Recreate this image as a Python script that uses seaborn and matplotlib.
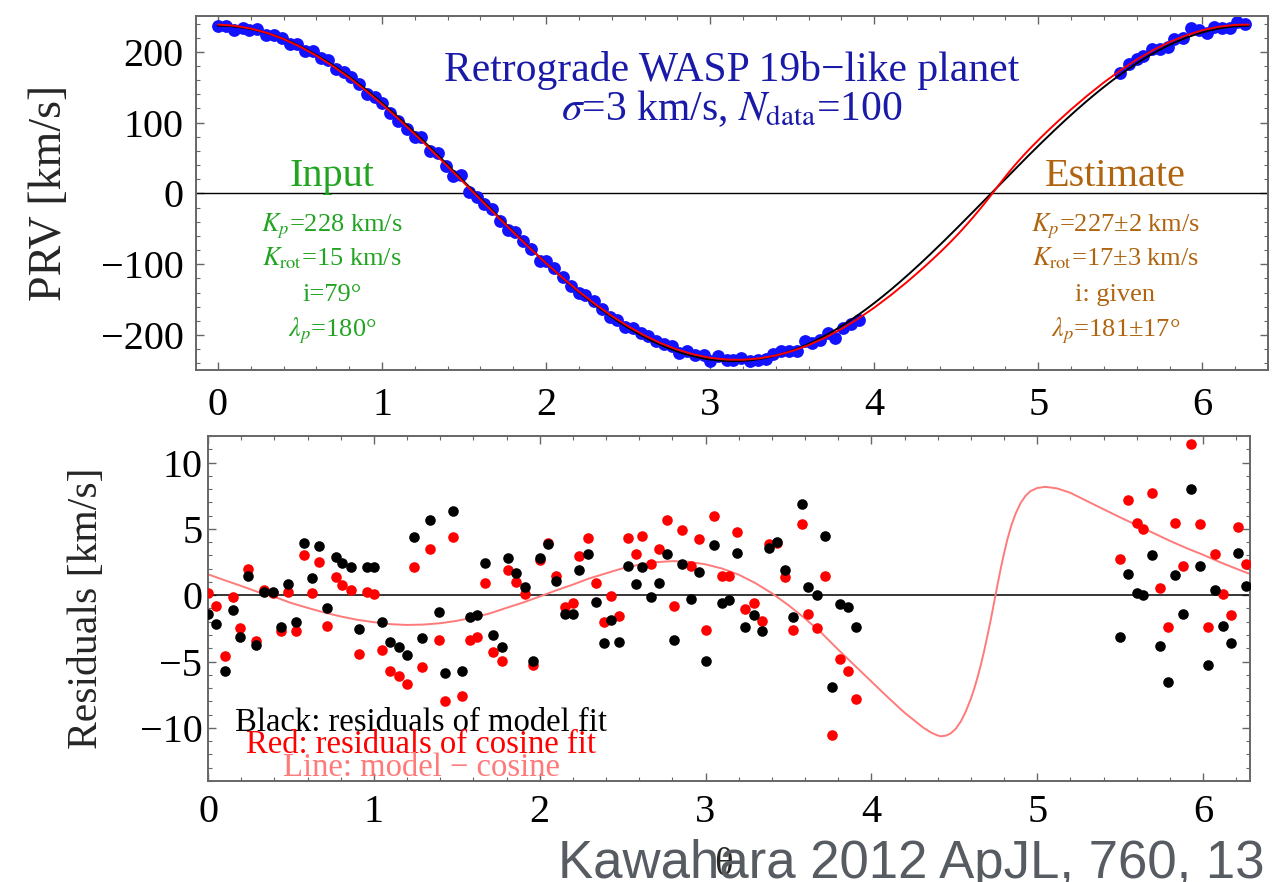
import numpy as np
import pandas as pd
import matplotlib
matplotlib.use("Agg")
import matplotlib.pyplot as plt
import seaborn as sns
from matplotlib.ticker import MultipleLocator

# Orbital phase of each observation (rad)
phase = [
    0.00, 0.05, 0.10, 0.15, 0.19, 0.24, 0.29, 0.34, 0.39, 0.44,
    0.48, 0.53, 0.58, 0.63, 0.67, 0.72, 0.77, 0.81, 0.86, 0.91,
    0.96, 1.00, 1.05, 1.10, 1.15, 1.20, 1.24, 1.29, 1.34, 1.39,
    1.43, 1.48, 1.53, 1.58, 1.62, 1.67, 1.72, 1.77, 1.81, 1.86,
    1.91, 1.96, 2.00, 2.05, 2.10, 2.15, 2.20, 2.24, 2.29, 2.34,
    2.39, 2.43, 2.48, 2.53, 2.58, 2.62, 2.67, 2.72, 2.77, 2.81,
    2.86, 2.91, 2.96, 3.00, 3.05, 3.10, 3.14, 3.19, 3.24, 3.29,
    3.34, 3.38, 3.43, 3.48, 3.53, 3.58, 3.62, 3.67, 3.72, 3.76,
    3.81, 3.86, 3.91,
    5.50, 5.55, 5.60, 5.64, 5.69, 5.74, 5.79, 5.83, 5.88, 5.93,
    5.98, 6.03, 6.07, 6.12, 6.17, 6.21, 6.26,
]

# Residuals of the model fit (km/s)
resid_model = [
    -1.38, -2.18, -5.74, -1.08, -3.18, 1.48, -3.73, 0.28, 0.28, -2.43,
    0.83, -1.98, 3.93, 1.28, 3.71, -0.98, 2.88, 2.41, 2.16, -2.58,
    2.16, 2.16, -1.98, -3.56, -3.91, -4.49, 4.36, -3.23, 5.66, -1.25,
    -5.89, 6.37, -5.71, -1.65, -1.48, 2.41, -2.98, -3.88, 2.78, 1.70,
    0.65, -4.99, 2.78, 3.83, 1.08, -1.43, -1.38, 1.93, 3.08, -0.48,
    -3.63, -1.85, -3.53, 2.21, 0.85, 2.10, -0.10, 0.95, 3.08, -3.41,
    2.33, -0.30, 1.78, -4.96, 3.81, -0.58, -0.33, 3.16, -2.36, -1.50,
    -2.66, 3.56, 4.04, 1.93, -1.63, 6.89, 0.60, 0.03, 4.49, -6.89,
    -0.63, -0.88, -2.36,
    -3.16, 1.60, 0.18, 0.00, 3.03, -3.86, -6.55, 1.55, -1.43, 8.02,
    2.21, -5.26, 0.43, -2.33, -3.63, 3.21, 0.68,
]

# Residuals of the cosine fit (km/s)
resid_cosine = [
    0.20, -0.78, -4.61, -0.13, -2.46, 2.00, -3.46, 0.40, 0.20, -2.73,
    0.28, -2.68, 3.06, 0.20, 2.50, -2.33, 1.38, 0.78, 0.40, -4.46,
    0.25, 0.13, -4.11, -5.74, -6.12, -6.72, 2.10, -5.44, 3.48, -3.38,
    -7.94, 4.39, -7.59, -3.38, -3.13, 0.95, -4.29, -4.99, 1.88, 0.98,
    0.13, -5.29, 2.68, 3.96, 1.45, -0.85, -0.60, 2.96, 4.31, 0.95,
    -2.00, -0.05, -1.58, 4.34, 3.11, 4.44, 2.36, 3.46, 5.64, -0.83,
    4.89, 2.21, 4.21, -2.63, 5.99, 1.45, 1.45, 4.76, -1.05, -0.55,
    -1.95, 3.86, 3.91, 1.38, -2.61, 5.39, -1.40, -2.48, 1.43, -10.55,
    -4.84, -5.71, -7.79,
    2.71, 7.17, 5.46, 4.96, 7.72, 0.58, -2.43, 5.46, 2.21, 11.40,
    5.36, -2.36, 3.08, 0.08, -1.48, 5.16, 2.38,
]

# Model minus cosine curve (km/s)
diff_phase = [
    0.00, 0.10, 0.20, 0.30, 0.40, 0.50, 0.60, 0.70, 0.80, 0.90,
    1.00, 1.10, 1.20, 1.30, 1.40, 1.50, 1.60, 1.70, 1.80, 1.90,
    2.00, 2.10, 2.20, 2.30, 2.40, 2.50, 2.60, 2.70, 2.80, 2.90,
    3.00, 3.10, 3.20, 3.30, 3.40, 3.50, 3.60, 3.70, 3.80, 3.90,
    4.00, 4.10, 4.20, 4.26, 4.31, 4.36, 4.40, 4.42, 4.45, 4.48,
    4.51, 4.54, 4.57, 4.60, 4.62, 4.64, 4.66, 4.68, 4.70, 4.72,
    4.74, 4.76, 4.78, 4.80, 4.82, 4.845, 4.87, 4.90, 4.93, 4.96,
    5.00, 5.05, 5.12, 5.20, 5.30, 5.40, 5.50, 5.60, 5.70, 5.80,
    5.90, 6.00, 6.10, 6.20, 6.283,
]
diff_value = [
    1.58, 1.13, 0.70, 0.25, -0.12, -0.58, -0.95, -1.30, -1.60, -1.85,
    -2.03, -2.18, -2.24, -2.21, -2.11, -1.93, -1.68, -1.37, -0.95, -0.55,
    -0.10, 0.37, 0.80, 1.27, 1.65, 2.03, 2.30, 2.49, 2.57, 2.52,
    2.33, 2.01, 1.55, 0.92, 0.15, -0.75, -1.75, -2.85, -4.10, -5.30,
    -6.50, -7.70, -8.85, -9.45, -9.95, -10.35, -10.57, -10.63, -10.58, -10.40,
    -10.05, -9.50, -8.75, -7.80, -7.05, -6.20, -5.25, -4.20, -3.05, -1.85,
    -0.55, 0.75, 2.00, 3.15, 4.20, 5.30, 6.15, 6.95, 7.50, 7.85,
    8.08, 8.17, 8.05, 7.72, 7.10, 6.48, 5.87, 5.28, 4.69, 4.10,
    3.55, 3.05, 2.50, 2.00, 1.60,
]

# Amplitude of the best-fit cosine (km/s)
cos_amp = 237.0

x_ticks = [0, 1, 2, 3, 4, 5, 6]

BLUE_PTS = "#1212ff"
TITLE_BLUE = "#1a1aa8"
GREEN = "#22a422"
BROWN = "#b0640f"
PINK = "#ff7a7a"
FRAME = "#666666"

sns.set_theme(style="ticks")
plt.rcParams["font.family"] = ["Liberation Serif", "DejaVu Serif"]
plt.rcParams["mathtext.fontset"] = "stix"
plt.rcParams["axes.unicode_minus"] = True

W, H = 1286, 882
fig = plt.figure(figsize=(W / 100, H / 100), dpi=100)


def px_axes(left, top, right, bottom):
    return fig.add_axes([left / W, 1 - bottom / H, (right - left) / W, (bottom - top) / H])


ax1 = px_axes(196, 16, 1268, 370)
ax2 = px_axes(208, 436, 1250, 781)

phase_arr = np.array(phase)
cos_at_data = cos_amp * np.cos(phase_arr)
prv = cos_at_data + np.array(resid_cosine)

top_df = pd.DataFrame({"phase": phase_arr, "prv": prv})
theta = np.linspace(0, 2 * np.pi, 500)
cos_df = pd.DataFrame({"phase": theta, "v": cos_amp * np.cos(theta)})
dp = np.array(diff_phase)
model_df = pd.DataFrame({"phase": dp, "v": cos_amp * np.cos(dp) + np.array(diff_value)})

# ---- upper panel: planetary radial velocity ----
ax1.axhline(0, color="black", lw=1.0, zorder=1)
sns.scatterplot(data=top_df, x="phase", y="prv", ax=ax1, color=BLUE_PTS, s=85,
                linewidth=0, zorder=2, legend=False)
sns.lineplot(data=cos_df, x="phase", y="v", ax=ax1, color="black", lw=1.4,
             estimator=None, sort=False, zorder=3)
sns.lineplot(data=model_df, x="phase", y="v", ax=ax1, color="#ff0000", lw=1.4,
             estimator=None, sort=False, zorder=4)

ax1.set_xlim(-0.134, 6.40)
ax1.set_ylim(-249.5, 250.7)
ax1.set_xticks(x_ticks)
ax1.yaxis.set_major_locator(MultipleLocator(100))
ax1.xaxis.set_minor_locator(MultipleLocator(0.2))
ax1.yaxis.set_minor_locator(MultipleLocator(20))
ax1.set_xlabel("")
ax1.set_ylabel("PRV [km/s]", fontsize=33)
ax1.yaxis.set_label_coords(-0.117, 0.5)

ax1.text(3.13, 159, "Retrograde WASP 19b\u2212like planet", color=TITLE_BLUE,
         fontsize=30, ha="center", va="baseline")
ax1.text(3.13, 104, r"$\sigma$=3 km/s, $N_{\mathrm{data}}$=100", color=TITLE_BLUE,
         fontsize=30, ha="center", va="baseline")

ax1.text(0.695, 11, "Input", color=GREEN, fontsize=29, ha="center", va="baseline")
input_lines = [r"$K_p$=228 km/s", r"$K_{\mathrm{rot}}$=15 km/s", "i=79°", r"$\lambda_p$=180°"]
est_lines = [r"$K_p$=227±2 km/s", r"$K_{\mathrm{rot}}$=17±3 km/s", "i: given", r"$\lambda_p$=181±17°"]
line_y = [-53, -102, -152, -202]
for txt, y in zip(input_lines, line_y):
    ax1.text(0.695, y, txt, color=GREEN, fontsize=19, ha="center", va="baseline")
ax1.text(5.47, 11, "Estimate", color=BROWN, fontsize=29, ha="center", va="baseline")
for txt, y in zip(est_lines, line_y):
    ax1.text(5.47, y, txt, color=BROWN, fontsize=19, ha="center", va="baseline")

# ---- lower panel: residuals ----
res_df = pd.DataFrame({"phase": phase_arr, "model": resid_model, "cosine": resid_cosine})
diff_df = pd.DataFrame({"phase": dp, "v": diff_value})

ax2.axhline(0, color="black", lw=1.1, zorder=1)
sns.lineplot(data=diff_df, x="phase", y="v", ax=ax2, color=PINK, lw=1.4,
             estimator=None, sort=False, zorder=2)
sns.scatterplot(data=res_df, x="phase", y="cosine", ax=ax2, color="#ff0000", s=58,
                linewidth=0, zorder=3, legend=False)
sns.scatterplot(data=res_df, x="phase", y="model", ax=ax2, color="black", s=58,
                linewidth=0, zorder=4, legend=False)

ax2.set_xlim(0, 2 * np.pi)
ax2.set_ylim(-14, 12)
ax2.set_xticks(x_ticks)
ax2.yaxis.set_major_locator(MultipleLocator(5))
ax2.xaxis.set_minor_locator(MultipleLocator(0.2))
ax2.yaxis.set_minor_locator(MultipleLocator(1))
ax2.set_ylabel("Residuals [km/s]", fontsize=30)
ax2.yaxis.set_label_coords(-0.098, 0.5)
ax2.set_xlabel("θ", fontsize=28)
ax2.xaxis.set_label_coords(0.495, -0.19)

legend_x = 1.285
ax2.text(legend_x, -10.2, "Black: residuals of model fit", color="black", fontsize=23.5,
         ha="center", va="baseline")
ax2.text(legend_x, -11.9, "Red: residuals of cosine fit", color="#ff0000", fontsize=23.5,
         ha="center", va="baseline")
ax2.text(legend_x, -13.6, "Line: model \u2212 cosine", color=PINK, fontsize=23.5,
         ha="center", va="baseline")

for ax, xpad, ypad in ((ax1, 12, 9), (ax2, 9, 4)):
    for s in ax.spines.values():
        s.set_visible(True)
        s.set_color(FRAME)
        s.set_linewidth(1.4)
    ax.tick_params(which="both", direction="in", top=True, right=True,
                   color=FRAME, labelcolor="black")
    ax.tick_params(which="major", length=6, width=1.0, labelsize=29)
    ax.tick_params(which="minor", length=3, width=0.8)
    ax.tick_params(axis="x", which="major", pad=xpad)
    ax.tick_params(axis="y", which="major", pad=ypad)
    ax.set_facecolor("white")

fig.text(0.9837, 0.005, "Kawahara 2012 ApJL, 760, 13", color="#575c62",
         fontsize=38, family="Liberation Sans", ha="right", va="baseline", zorder=10)

fig.savefig("out.png", dpi=100, facecolor="white")
